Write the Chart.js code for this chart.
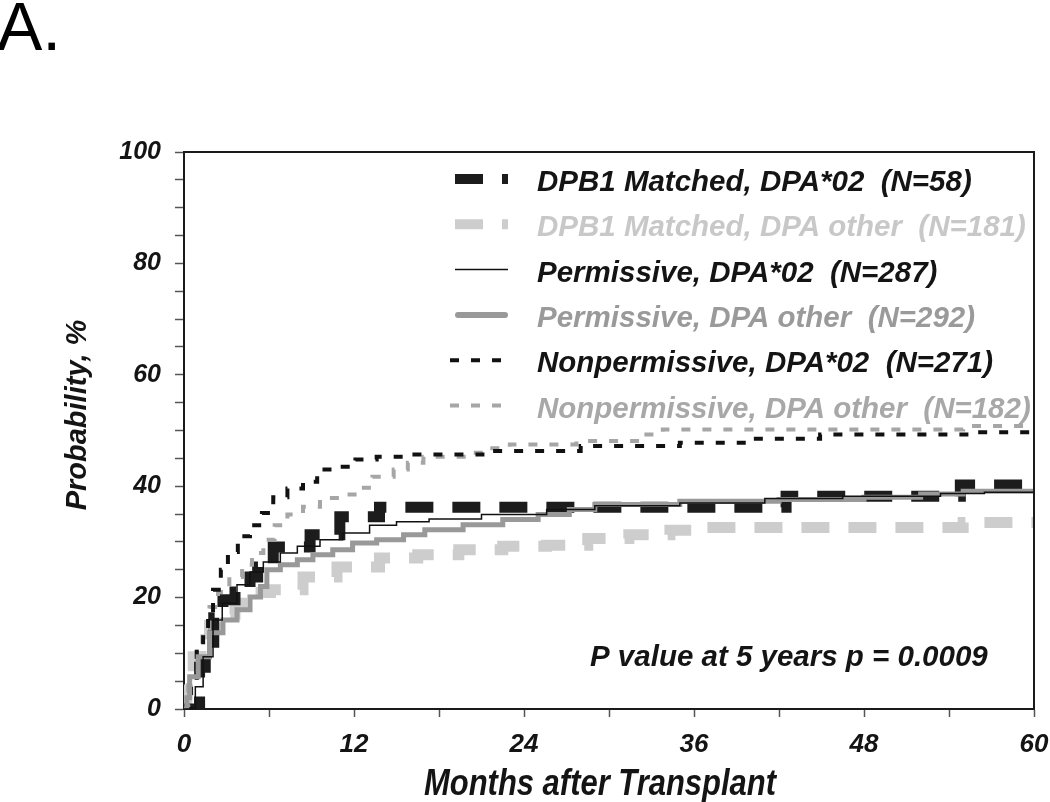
<!DOCTYPE html>
<html><head><meta charset="utf-8">
<script src="https://cdn.jsdelivr.net/npm/chart.js@4.4.1/dist/chart.umd.min.js"></script>
<style>html,body{margin:0;padding:0;background:#fff;} canvas{display:block;}</style>
</head><body>
<canvas id="c" width="1050" height="802"></canvas>
<script>
// ---- Data (months after transplant, cumulative probability %) ----
const matchedDpa02Months = [0, 0.8, 1.1, 1.5, 2.1, 2.75, 3.6, 4.66, 5.2, 6.3, 8.9, 11, 13.8, 42.5, 54.8, 60];
const matchedDpa02Values = [0, 0, 7.5, 12, 16.4, 19.6, 21, 23.7, 25.5, 29.1, 31.3, 34.5, 36.2, 38.2, 40.2, 40.2];

const matchedOtherMonths = [0, 0.2, 0.65, 1.2, 1.8, 2.5, 3.6, 4.66, 6.1, 8.4, 10.8, 13.8, 16.5, 19.4, 22.5, 25.6, 28.5, 31.4, 34.3, 36.5, 55, 60];
const matchedOtherValues = [0, 3.4, 9.4, 12.5, 15, 17, 19, 20.9, 21.4, 23.7, 25.5, 27.1, 27.7, 28.6, 29.2, 29.4, 30.6, 31.3, 32.1, 32.6, 33.5, 33.5];

const permDpa02Months = [0, 0.4, 0.8, 1.35, 2.05, 2.7, 3.74, 4.66, 5.6, 6.8, 8, 9.6, 11.2, 13.1, 15, 17.3, 21, 25.6, 29, 35, 41, 46.5, 53.4, 56.5, 60];
const permDpa02Values = [0, 0, 4, 9.4, 16, 19, 22.3, 24.6, 26.4, 28, 29.2, 30.4, 31.6, 33, 33.6, 34.1, 34.9, 35.8, 36.5, 37, 37.8, 38.2, 38.7, 38.9, 38.9];

const permOtherMonths = [0, 0.2, 0.4, 1, 1.8, 2.75, 3.74, 4.66, 5.4, 5.85, 6.8, 8, 9.1, 10.5, 11.9, 13.6, 15.5, 17, 19.7, 22.5, 25, 27.2, 29, 35, 42, 48, 52, 55, 60];
const permOtherValues = [0, 2, 5.8, 9.4, 13.7, 16, 17.8, 20.1, 22, 25, 25.9, 26.8, 27.7, 28.6, 29.8, 30.4, 31.3, 32.2, 33.1, 34, 34.9, 35.8, 36.7, 37.3, 37.6, 38, 38.6, 39.1, 39.1];

const nonpermDpa02Months = [0, 0.5, 0.9, 1.35, 1.7, 2.05, 2.6, 3.1, 3.8, 4.66, 5.5, 6.3, 7.3, 8.4, 9.4, 10.8, 12.1, 13.6, 15.5, 21.5, 28, 35, 39.7, 44.9, 55.7, 60];
const nonpermDpa02Values = [0, 4, 11, 14.2, 17.3, 21.4, 25, 28.2, 31, 33, 35.2, 38, 39.6, 40.8, 43, 43.5, 44.8, 45.3, 45.7, 46.3, 47.2, 47.8, 48.5, 49.3, 49.7, 49.7];

const nonpermOtherMonths = [0, 0.3, 0.9, 1.3, 1.8, 2.4, 3.2, 4.1, 4.8, 5.6, 6.4, 7.3, 8.4, 9.6, 11.2, 12.2, 13.3, 14.8, 15.8, 16.9, 20, 21.6, 23, 27.7, 32.4, 33.8, 55, 60];
const nonpermOtherValues = [0, 5, 11, 14.5, 18.3, 21, 23.7, 25.9, 28, 30.4, 33, 34.9, 36.3, 37.9, 38.5, 39.7, 41.7, 43, 44.2, 45.3, 46, 46.8, 47.5, 48.1, 49.3, 50.2, 50.8, 50.8];

const seriesLabels = [
  'DPB1 Matched, DPA*02  (N=58)',
  'DPB1 Matched, DPA other  (N=181)',
  'Permissive, DPA*02  (N=287)',
  'Permissive, DPA other  (N=292)',
  'Nonpermissive, DPA*02  (N=271)',
  'Nonpermissive, DPA other  (N=182)'
];
const xTickLabels = [0, 12, 24, 36, 48, 60];
const yTickLabels = [0, 20, 40, 60, 80, 100];
const pValueText = 'P value at 5 years p = 0.0009';
const panelLabel = 'A.';
const xTitle = 'Months after Transplant';
const yTitle = 'Probability, %';

// ---- Build ----
function pts(xs, ys) { return xs.map((x, i) => ({x: x, y: ys[i]})); }

const styles = [
  {color: '#1c1c1c', width: 11, dash: [28, 19], text: '#141414', order: 4},
  {color: '#cdcdcd', width: 11, dash: [28, 19], text: '#c8c8c8', order: 5},
  {color: '#111111', width: 1.5, dash: [], text: '#141414', order: 0},
  {color: '#999999', width: 5, dash: [], text: '#9a9a9a', order: 1},
  {color: '#111111', width: 4, dash: [9, 12], text: '#141414', order: 2},
  {color: '#a6a6a6', width: 4, dash: [9, 12], text: '#a8a8a8', order: 3}
];
const seriesData = [
  pts(matchedDpa02Months, matchedDpa02Values),
  pts(matchedOtherMonths, matchedOtherValues),
  pts(permDpa02Months, permDpa02Values),
  pts(permOtherMonths, permOtherValues),
  pts(nonpermDpa02Months, nonpermDpa02Values),
  pts(nonpermOtherMonths, nonpermOtherValues)
];

const datasets = seriesLabels.map((lab, i) => ({
  label: lab,
  data: seriesData[i],
  borderColor: styles[i].color,
  borderWidth: styles[i].width,
  borderDash: styles[i].dash,
  borderCapStyle: 'butt',
  borderJoinStyle: 'miter',
  stepped: 'before',
  pointRadius: 0,
  fill: false,
  order: styles[i].order
}));

const BOLDI = 'bold italic ';
const SANS = '"Liberation Sans", Arial, sans-serif';

const decor = {
  id: 'decor',
  afterDatasetsDraw(chart) {
    const ctx = chart.ctx, a = chart.chartArea;
    ctx.save();
    ctx.strokeStyle = '#1a1a1a';
    ctx.lineWidth = 2;
    ctx.beginPath();
    ctx.moveTo(a.left, a.top);
    ctx.lineTo(a.right, a.top);
    ctx.lineTo(a.right, a.bottom);
    ctx.stroke();
    ctx.restore();
  },
  afterDraw(chart) {
    const ctx = chart.ctx;
    ctx.save();
    // panel label
    ctx.fillStyle = '#000';
    ctx.font = '68px ' + SANS;
    ctx.textAlign = 'left';
    ctx.textBaseline = 'alphabetic';
    ctx.fillText(panelLabel, -3, 50);
    // legend
    const rowY0 = 183, rowGap = 45.3;
    ctx.font = BOLDI + '29.5px ' + SANS;
    seriesLabels.forEach((lab, i) => {
      const y = rowY0 + i * rowGap;
      const s = styles[i];
      ctx.save();
      ctx.strokeStyle = s.color;
      ctx.lineWidth = i === 1 || i === 0 ? 10 : (i === 3 ? 6 : s.width);
      ctx.setLineDash(s.dash);
      ctx.lineCap = i === 3 ? 'round' : 'butt';
      ctx.beginPath();
      const x0 = i === 3 ? 458 : (i >= 4 ? 450 : 455);
      const x1 = i === 3 ? 505 : 508;
      ctx.moveTo(x0, y - 4);
      ctx.lineTo(x1, y - 4);
      ctx.stroke();
      ctx.restore();
      ctx.fillStyle = s.text;
      ctx.textBaseline = 'middle';
      ctx.fillText(lab, 537, y);
    });
    // p value
    ctx.fillStyle = '#141414';
    ctx.font = BOLDI + '29.5px ' + SANS;
    ctx.textBaseline = 'alphabetic';
    ctx.fillText(pValueText, 590, 666);
    // x axis title (condensed look)
    ctx.save();
    ctx.translate(600, 785);
    ctx.scale(0.86, 1);
    ctx.font = BOLDI + '36px ' + SANS;
    ctx.textAlign = 'center';
    ctx.textBaseline = 'middle';
    ctx.fillText(xTitle, 0, 0);
    ctx.restore();
    // y axis title
    ctx.save();
    ctx.translate(78, 415);
    ctx.rotate(-Math.PI / 2);
    ctx.font = BOLDI + '29px ' + SANS;
    ctx.textAlign = 'center';
    ctx.textBaseline = 'middle';
    ctx.fillText(yTitle, 0, 0);
    ctx.restore();
    ctx.restore();
  }
};

new Chart(document.getElementById('c'), {
  type: 'line',
  data: {datasets: datasets},
  options: {
    responsive: false,
    animation: false,
    events: [],
    layout: {padding: {top: 152, right: 16, left: 0, bottom: 0}},
    plugins: {legend: {display: false}, tooltip: {enabled: false}, title: {display: false}},
    scales: {
      x: {
        type: 'linear', min: 0, max: 60,
        afterFit(s) { s.height = 93; s.paddingRight = 0; s.paddingLeft = 0; },
        border: {display: true, color: '#1a1a1a', width: 2},
        grid: {display: true, drawOnChartArea: false, drawTicks: true, tickLength: 8, tickColor: '#555', tickWidth: 1.5},
        ticks: {
          stepSize: 6, autoSkip: false, maxRotation: 0, padding: 12, color: '#141414',
          font: {family: SANS, size: 26, weight: 'bold', style: 'italic'},
          callback: v => (xTickLabels.includes(v) ? String(v) : '')
        }
      },
      y: {
        min: 0, max: 100,
        afterFit(s) { s.width = 184; s.paddingTop = 0; s.paddingBottom = 0; },
        border: {display: true, color: '#1a1a1a', width: 2},
        grid: {display: true, drawOnChartArea: false, drawTicks: true, tickLength: 9, tickColor: '#555', tickWidth: 1.5},
        ticks: {
          stepSize: 5, autoSkip: false, padding: 14, color: '#141414',
          font: {family: SANS, size: 25, weight: 'bold', style: 'italic'},
          callback: v => (yTickLabels.includes(v) ? String(v) : '')
        }
      }
    }
  },
  plugins: [decor]
});
</script>
</body></html>
